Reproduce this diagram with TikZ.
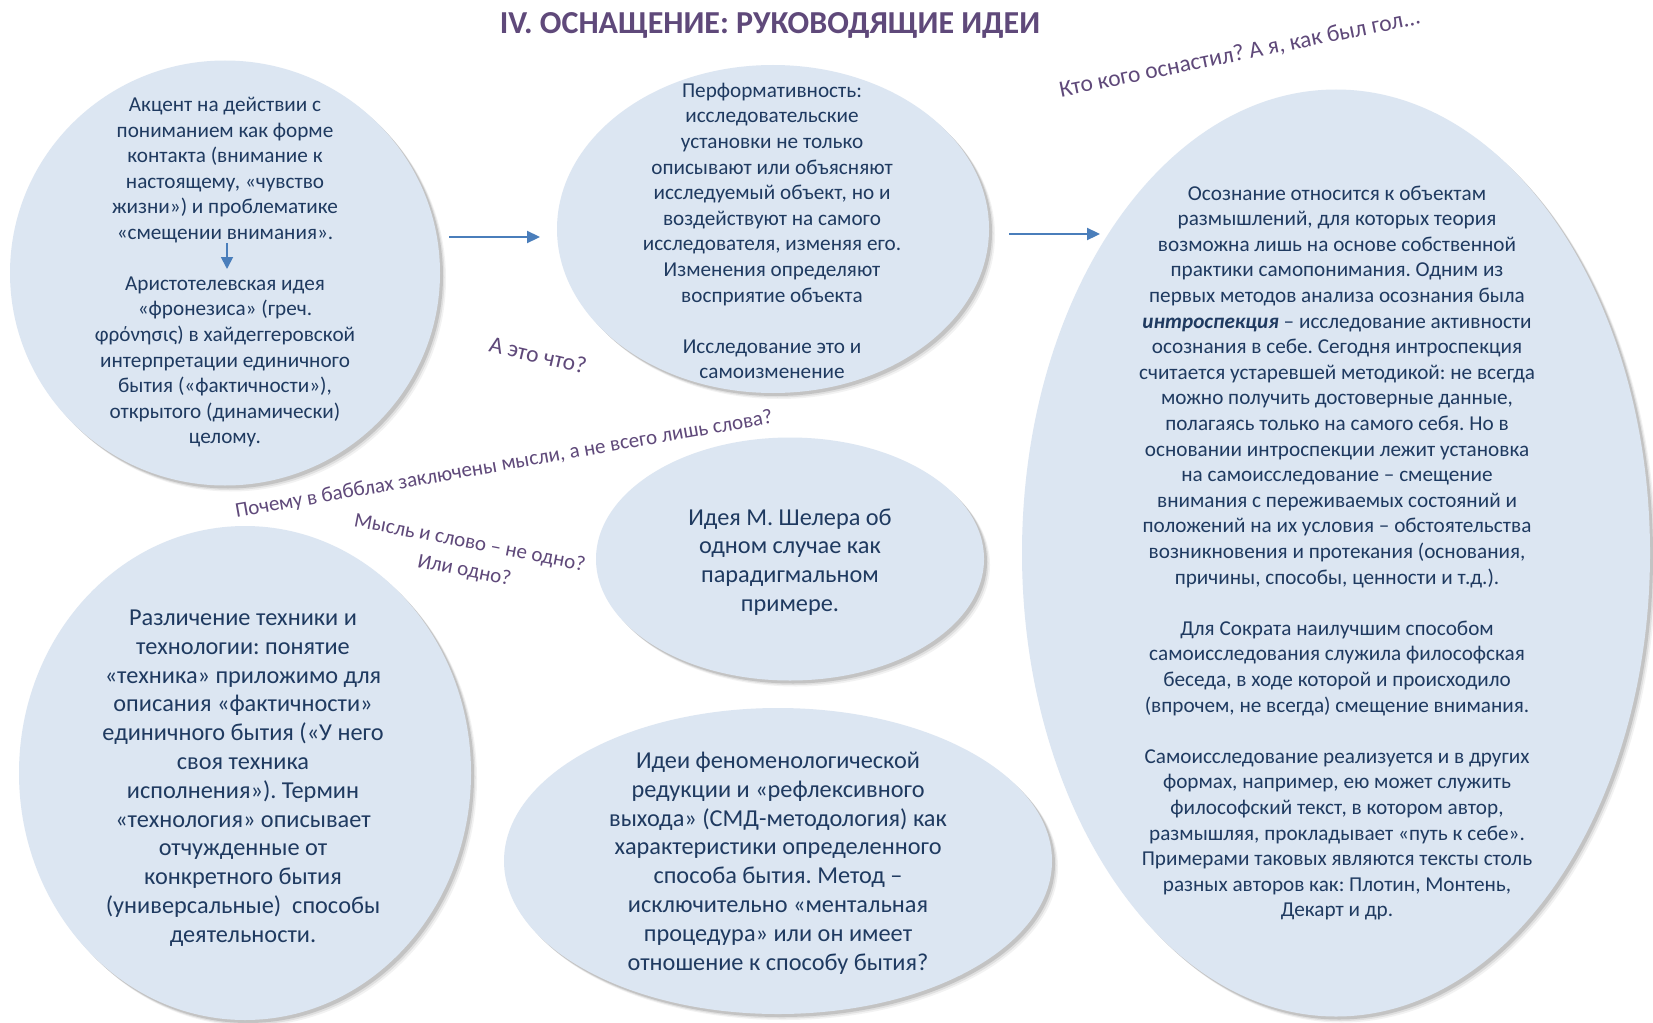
\documentclass[tikz,border=0pt]{standalone}
\usepackage{fontspec}
\setmainfont{Carlito}
\frenchspacing
\usetikzlibrary{shapes.geometric,arrows.meta,shadows}
\definecolor{bubblefill}{HTML}{DCE6F2}
\definecolor{ink}{HTML}{1F3A60}
\definecolor{plum}{HTML}{5F497A}
\definecolor{arrowblue}{HTML}{4A7EBB}
\tikzset{
  bubble/.style={ellipse, fill=bubblefill, draw=none, inner sep=0pt,
    general shadow={shadow xshift=6pt, shadow yshift=-6pt, fill=black, opacity=.05},
    general shadow={shadow xshift=4.5pt, shadow yshift=-4.5pt, fill=black, opacity=.08},
    general shadow={shadow xshift=3pt, shadow yshift=-3pt, fill=black, opacity=.12}},
  txt/.style={text=ink, align=center, inner sep=0pt, font=\fontsize{21.2}{25.6}\selectfont},
  bigtxt/.style={text=ink, align=center, inner sep=0pt, font=\fontsize{24.3}{28.8}\selectfont},
  note/.style={text=plum, align=center, inner sep=0pt, font=\fontsize{21}{28}\selectfont},
  bignote/.style={text=plum, align=center, inner sep=0pt, font=\fontsize{23.5}{28}\selectfont},
  flow/.style={draw=arrowblue, line width=2.2pt, -{Triangle[length=13pt,width=12pt]}},
}
\begin{document}
\begin{tikzpicture}[x=1pt,y=-1pt]
\useasboundingbox (0,0) rectangle (1653,1022);
\fill[white] (0,0) rectangle (1653,1022);

% title
\node[text=plum, font=\fontsize{32}{36}\bfseries] (title) at (770,25) {IV. ОСНАЩЕНИЕ: РУКОВОДЯЩИЕ ИДЕИ};

% bubbles
\node[bubble, minimum width=430pt, minimum height=425pt] (A) at (225,273) {};
\node[bubble, minimum width=432pt, minimum height=328pt] (B) at (773,229) {};
\node[bubble, minimum width=628pt, minimum height=927pt] (C) at (1336,553) {};
\node[bubble, minimum width=388pt, minimum height=243pt] (D) at (790,559) {};
\node[bubble, minimum width=452pt, minimum height=494pt] (E) at (245,773) {};
\node[bubble, minimum width=548pt, minimum height=306pt] (F) at (778,861) {};

% texts
\node[txt] (A1) at (225,170) {Акцент на действии с\\пониманием как форме\\контакта (внимание к\\настоящему, «чувство\\жизни») и проблематике\\«смещении внимания».};
\node[txt] (A2) at (225,362) {Аристотелевская идея\\«фронезиса» (греч.\\φρόνησις) в хайдеггеровской\\интерпретации единичного\\бытия («фактичности»),\\открытого (динамически)\\целому.};
\node[txt] (Bt) at (772,231) {Перформативность:\\исследовательские\\установки не только\\описывают или объясняют\\исследуемый объект, но и\\воздействуют на самого\\исследователя, изменяя его.\\Изменения определяют\\восприятие объекта\\[25.6pt]Исследование это и\\самоизменение};
\node[txt] (Ct) at (1337,553) {Осознание относится к объектам\\размышлений, для которых теория\\возможна лишь на основе собственной\\практики самопонимания. Одним из\\первых методов анализа осознания была\\\textbf{\textit{интроспекция}} – исследование активности\\осознания в себе. Сегодня интроспекция\\считается устаревшей методикой: не всегда\\можно получить достоверные данные,\\полагаясь только на самого себя. Но в\\основании интроспекции лежит установка\\на самоисследование – смещение\\внимания с переживаемых состояний и\\положений на их условия – обстоятельства\\возникновения и протекания (основания,\\причины, способы, ценности и т.д.).\\[25.6pt]Для Сократа наилучшим способом\\самоисследования служила философская\\беседа, в ходе которой и происходило\\(впрочем, не всегда) смещение внимания.\\[25.6pt]Самоисследование реализуется и в других\\формах, например, ею может служить\\философский текст, в котором автор,\\размышляя, прокладывает «путь к себе».\\Примерами таковых являются тексты столь\\разных авторов как: Плотин, Монтень,\\Декарт и др.};
\node[bigtxt] (Dt) at (790,562) {Идея М. Шелера об\\одном случае как\\парадигмальном\\примере.};
\node[bigtxt] (Et) at (243,778) {Различение техники и\\технологии: понятие\\«техника» приложимо для\\описания «фактичности»\\единичного бытия («У него\\своя техника\\исполнения»). Термин\\«технология» описывает\\отчужденные от\\конкретного бытия\\(универсальные)\ \ способы\\деятельности.};
\node[bigtxt] (Ft) at (778,863) {Идеи феноменологической\\редукции и «рефлексивного\\выхода» (СМД-методология) как\\характеристики определенного\\способа бытия. Метод –\\исключительно «ментальная\\процедура» или он имеет\\отношение к способу бытия?};

% connectors
\coordinate (a1s) at (449,237);
\coordinate (a1e) at (540,237);
\coordinate (a2s) at (1009,234);
\coordinate (a2e) at (1100,234);
\coordinate (a3s) at (227,243);
\coordinate (a3e) at (227,269);
\draw[flow] (a1s) -- (a1e);
\draw[flow] (a2s) -- (a2e);
\draw[draw=arrowblue, line width=1.8pt, -{Triangle[length=12pt,width=12pt]}] (a3s) -- (a3e);

% notes
\node[bignote, rotate=11.5] (n1) at (1240,54) {Кто кого оснастил? А я, как был гол...};
\node[bignote, rotate=-13] (n2) at (538,355) {А это что?};
\node[note, rotate=10] (n3) at (504,465) {Почему в бабблах заключены мысли, а не всего лишь слова?};
\node[note, rotate=-11] (n4) at (467,557) {Мысль и слово – не одно?\\Или одно?};
\end{tikzpicture}
\end{document}
